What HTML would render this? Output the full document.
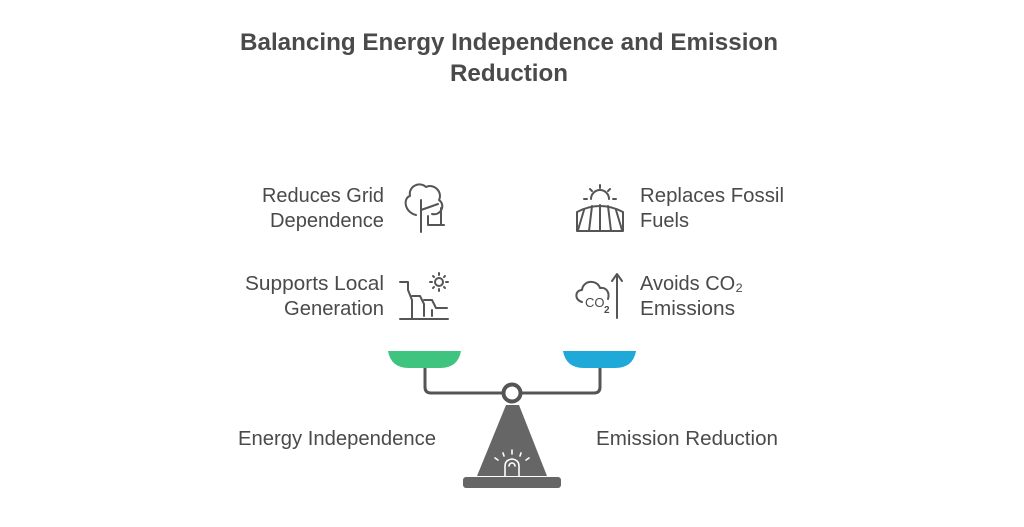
<!DOCTYPE html>
<html><head><meta charset="utf-8"><style>
html,body{margin:0;padding:0;background:#fff;}
svg{display:block;}
text{font-family:"Liberation Sans",sans-serif;fill:#4a4a4a;}
</style></head><body>
<svg width="1024" height="527" viewBox="0 0 1024 527" xmlns="http://www.w3.org/2000/svg">
<text x="240" y="50" font-size="24.5" font-weight="bold" textLength="538" lengthAdjust="spacingAndGlyphs">Balancing Energy Independence and Emission</text>
<text x="450" y="81" font-size="24.5" font-weight="bold" textLength="118" lengthAdjust="spacingAndGlyphs">Reduction</text>

<g font-size="20">
<text x="262" y="202" textLength="122" lengthAdjust="spacingAndGlyphs">Reduces Grid</text>
<text x="270" y="227" textLength="114" lengthAdjust="spacingAndGlyphs">Dependence</text>
<text x="245" y="290" textLength="139" lengthAdjust="spacingAndGlyphs">Supports Local</text>
<text x="284" y="315" textLength="100" lengthAdjust="spacingAndGlyphs">Generation</text>
<text x="238" y="445" textLength="198" lengthAdjust="spacingAndGlyphs">Energy Independence</text>
<text x="640" y="202" textLength="144" lengthAdjust="spacingAndGlyphs">Replaces Fossil</text>
<text x="640" y="227" textLength="49" lengthAdjust="spacingAndGlyphs">Fuels</text>
<text x="640" y="290" textLength="103" lengthAdjust="spacingAndGlyphs">Avoids CO₂</text>
<text x="640" y="315" textLength="95" lengthAdjust="spacingAndGlyphs">Emissions</text>
<text x="596" y="445" textLength="182" lengthAdjust="spacingAndGlyphs">Emission Reduction</text>
</g>

<g fill="none" stroke="#555" stroke-width="2" stroke-linecap="round" stroke-linejoin="round">
<path d="M416 215 C404 212 403 198 410 196 C408 186 420 181 426 187 C434 183 443 192 439 200 C446 205 441 216 432 214"/>
<line x1="421" y1="200" x2="421" y2="232"/>
<line x1="421" y1="210" x2="438" y2="204"/>
<path d="M428 216 V225 H444 M441 208 V225"/>
<path d="M400 282 H408 V290 L412 300 V318"/>
<path d="M412 296 H420 L424 304 V316"/>
<path d="M424 300 H432 L436 308 H447"/>
<path d="M432 310 V316"/>
<line x1="400" y1="319" x2="448" y2="319"/>
<circle cx="439" cy="282" r="4"/>
<path d="M439 273v2M439 289v2M430 282h2M446 282h2M433 276l1 1M444 287l1 1M445 276l-1 1M433 288l1-1"/>
<path d="M591 199 a9 9 0 0 1 18 0"/>
<path d="M600 185v3M590 189l2 2M610 189l-2 2M584 199h3M613 199h3"/>
<path d="M577 231 V212 Q600 200 623 212 V231 Z"/>
<path d="M584 210 L578 230 M592 206 L589 231 M600 205 V231 M608 206 L611 231 M616 210 L622 230"/>
<path d="M582 302 C574 300 575 290 582 290 C583 280 597 279 600 288 C606 287 610 292 608 299"/>
<line x1="617" y1="275" x2="617" y2="318"/>
<path d="M612 281 L617 274 L622 281"/>
</g>
<text x="585" y="307" font-size="13" fill="#555">CO</text>
<text x="604" y="313" font-size="10" fill="#555" font-weight="bold">2</text>

<path d="M388 351 H461 Q458 368 440 368 H409 Q391 368 388 351 Z" fill="#3fc47f"/>
<path d="M563 351 H636 Q633 368 615 368 H584 Q566 368 563 351 Z" fill="#1fa9d8"/>
<path d="M425 368 V387 Q425 393 431 393 H502 M522 393 H594 Q600 393 600 387 V368" fill="none" stroke="#555" stroke-width="3"/>
<circle cx="512" cy="393" r="8.5" fill="#fff" stroke="#555" stroke-width="4"/>
<path d="M506 405 H519 L547 476 H477 Z" fill="#666"/>
<rect x="463" y="477" width="98" height="11" rx="3" fill="#666"/>
<g stroke="#fff" stroke-width="1.6" fill="none" stroke-linecap="round">
<path d="M505 476 V466 Q505 460 512 459 Q519 460 519 466 V476"/>
<path d="M509 466 a3 3 0 0 1 6 0"/>
<path d="M512 450v4M503 453l1 3M521 453l-1 3M495 458l3 2M529 458l-3 2"/>
</g>
</svg>
</body></html>
